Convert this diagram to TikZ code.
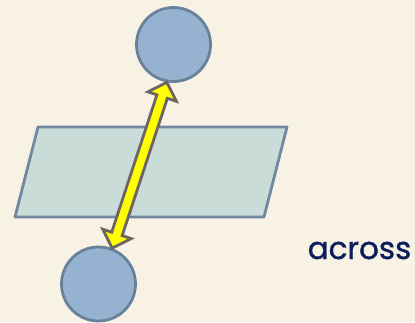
\documentclass[tikz,border=0pt]{standalone}
\usepackage{fontspec}
\newfontfamily\labelfont[FakeBold=1.2]{Poppins}
\usetikzlibrary{calc}
\definecolor{bg}{HTML}{F8F2E5}
\definecolor{ballfill}{HTML}{95B3D0}
\definecolor{balledge}{HTML}{6A8299}
\definecolor{planefill}{HTML}{C9DCD8}
\definecolor{planeedge}{HTML}{7189A0}
\definecolor{arrowedge}{HTML}{6E6462}
\definecolor{arrowfill}{HTML}{FFFF00}
\definecolor{txt}{HTML}{0C1F5B}
\tikzset{
  ball/.style={circle, draw=balledge, fill=ballfill, line width=2.8pt, minimum size=74pt, inner sep=0pt},
  plane/.style={draw=planeedge, fill=planefill, line width=2.8pt, line join=round},
  blockarrow/.style={draw=arrowedge, fill=arrowfill, line width=2.8pt, line join=miter},
  lbl/.style={text=txt, font=\labelfont\fontsize{31}{36}\selectfont, inner sep=0pt, anchor=base}
}
\begin{document}
\begin{tikzpicture}[x=1pt,y=1pt]
\fill[bg] (0,0) rectangle (415,322);
\useasboundingbox (0,0) rectangle (415,322);
% plane
\draw[plane] (38,195) -- (287,195) -- (264,105) -- (15,105) -- cycle;
% balls
\node[ball] (top) at (173.5,277.5) {};
\node[ball] (bot) at (98.5,38) {};
% arrow ends
\coordinate (A) at (bot.69);
\coordinate (B) at (top.260);
\def\h{15pt}\def\w{15pt}\def\s{5.5pt}
\draw[blockarrow] (A)
  -- ($(A)!\h!(B)!\w!90:(B)$)
  -- ($(A)!\h!(B)!\s!90:(B)$)
  -- ($(B)!\h!(A)!\s!-90:(A)$)
  -- ($(B)!\h!(A)!\w!-90:(A)$)
  -- (B)
  -- ($(B)!\h!(A)!\w!90:(A)$)
  -- ($(B)!\h!(A)!\s!90:(A)$)
  -- ($(A)!\h!(B)!\s!-90:(B)$)
  -- ($(A)!\h!(B)!\w!-90:(B)$)
  -- cycle;
\node[lbl] (across) at (359.5,63) {across};
\end{tikzpicture}
\end{document}
